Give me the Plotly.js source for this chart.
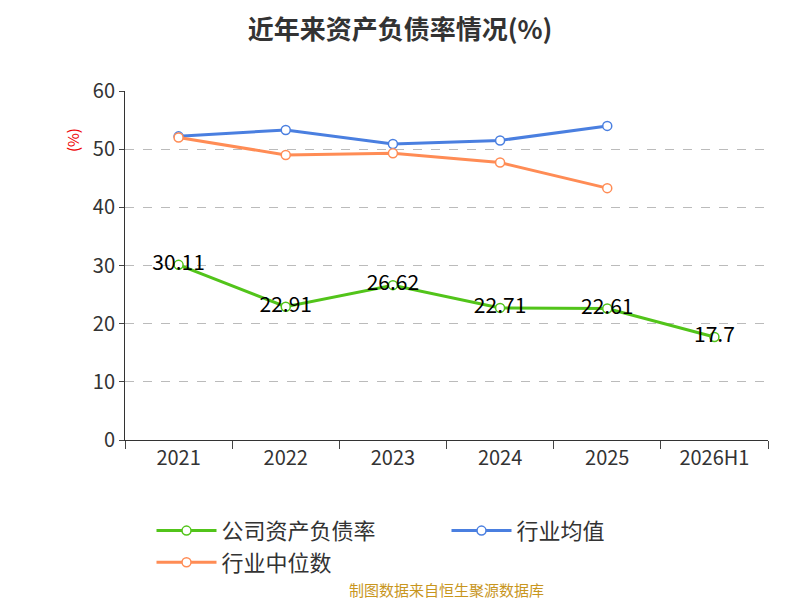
<!DOCTYPE html>
<html><head><meta charset="utf-8">
<script src="https://cdn.plot.ly/plotly-3.0.1.min.js"></script>
</head><body style="margin:0">
<div id="c" style="width:800px;height:600px;"></div>
<script>
var years = ["2021", "2022", "2023", "2024", "2025", "2026H1"];
var company = [30.11, 22.91, 26.62, 22.71, 22.61, 17.7];
var industryAvg = [52.2, 53.3, 50.9, 51.5, 54.0];
var industryMed = [52.0, 49.0, 49.3, 47.7, 43.3];

var mk = function (c) { return { size: 9, color: "#fff", line: { color: c, width: 1.5 } }; };
Plotly.newPlot("c", [{
  x: years, y: company, name: "公司资产负债率", mode: "lines+markers+text",
  text: company.map(String), textposition: "middle center",
  textfont: { size: 21, color: "#000" },
  line: { color: "#52c41a", width: 3 }, marker: mk("#52c41a")
}, {
  x: years.slice(0, 5), y: industryAvg, name: "行业均值", mode: "lines+markers",
  line: { color: "#4a7fe0", width: 3 }, marker: mk("#4a7fe0")
}, {
  x: years.slice(0, 5), y: industryMed, name: "行业中位数", mode: "lines+markers",
  line: { color: "#ff8c55", width: 3 }, marker: mk("#ff8c55")
}], {
  width: 800, height: 600,
  font: { family: "Noto Sans CJK SC, Noto Sans, sans-serif", color: "#333" },
  title: { text: "<b>近年来资产负债率情况(%)</b>", x: 0.5, y: 0.965, font: { size: 26, color: "#333" } },
  margin: { l: 125, r: 32, t: 91, b: 160 },
  showlegend: true,
  legend: { orientation: "h", x: 0.5, xanchor: "center", y: -0.2, font: { size: 22 }, itemwidth: 60, entrywidth: 220 },
  xaxis: { type: "category", showline: true, linecolor: "#333", ticks: "outside", tickson: "boundaries", ticklen: 8,
    tickfont: { size: 20 }, showgrid: false, range: [-0.5, 5.5] },
  yaxis: { range: [0, 60], dtick: 10, showline: true, linecolor: "#333", ticks: "outside",
    tickfont: { size: 20 }, gridcolor: "#bbb", griddash: "dash", zeroline: false },
  annotations: [
    { text: "(%)", xref: "paper", yref: "paper", x: -0.1, y: 0.9, textangle: -90, showarrow: false, font: { size: 15, color: "#e00" } },
    { text: "制图数据来自恒生聚源数据库", xref: "paper", yref: "paper", x: 0.5, y: -0.465, showarrow: false, font: { size: 15, color: "#c8961e" } }
  ]
}, { displayModeBar: false });
</script>
</body></html>
